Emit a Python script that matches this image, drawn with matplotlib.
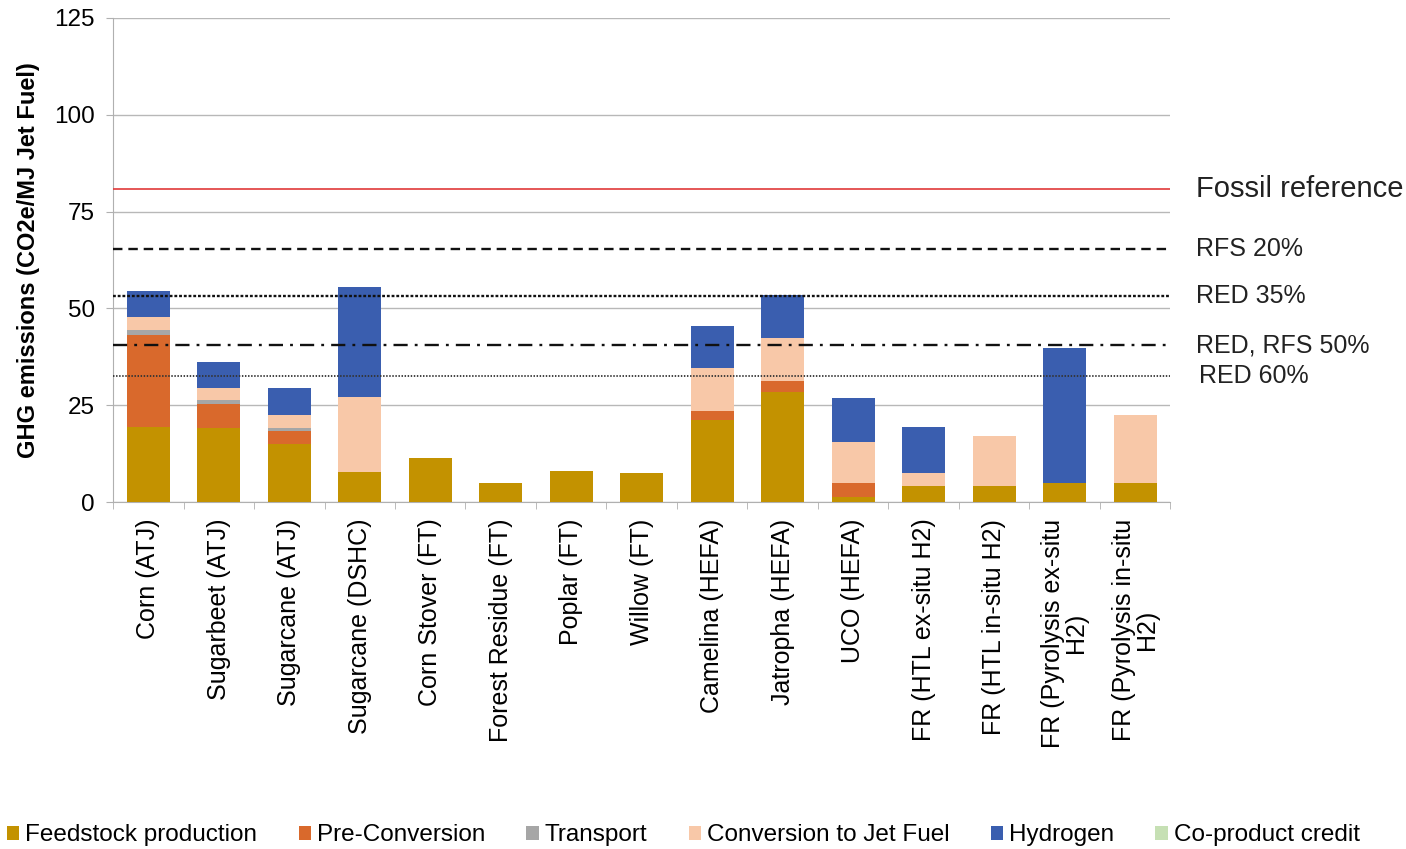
import matplotlib
matplotlib.use("Agg")
import matplotlib.pyplot as plt
from matplotlib.patches import Patch
import matplotlib.transforms as mtransforms
import numpy as np

plt.rcParams['font.family'] = ['Liberation Sans', 'DejaVu Sans']

# pathways (x axis)
categories = ["Corn (ATJ)", "Sugarbeet (ATJ)", "Sugarcane (ATJ)", "Sugarcane (DSHC)",
              "Corn Stover (FT)", "Forest Residue (FT)", "Poplar (FT)", "Willow (FT)",
              "Camelina (HEFA)", "Jatropha (HEFA)", "UCO (HEFA)", "FR (HTL ex-situ H2)",
              "FR (HTL in-situ H2)", "FR (Pyrolysis ex-situ\nH2)", "FR (Pyrolysis in-situ\nH2)"]

# emissions by stage, gCO2e/MJ jet fuel
feedstock = [19.4, 19.2, 15.1, 7.7, 11.4, 5.0, 8.0, 7.6, 21.2, 28.5, 1.4, 4.2, 4.2, 4.8, 4.8]
pre_conversion = [23.7, 6.0, 3.2, 0, 0, 0, 0, 0, 2.4, 2.7, 3.5, 0, 0, 0, 0]
transport = [1.3, 1.1, 0.9, 0, 0, 0, 0, 0, 0, 0, 0, 0, 0, 0, 0]
conversion = [3.3, 3.1, 3.3, 19.5, 0, 0, 0, 0, 10.9, 11.2, 10.7, 3.2, 12.8, 0, 17.7]
hydrogen = [6.8, 6.8, 6.9, 28.2, 0, 0, 0, 0, 11.0, 11.1, 11.2, 12.1, 0, 35.1, 0]
coproduct = [0] * 15

series_names = ["Feedstock production", "Pre-Conversion", "Transport",
                "Conversion to Jet Fuel", "Hydrogen", "Co-product credit"]
series_colors = ["#C39200", "#D9692C", "#A6A6A6", "#F8C8A8", "#3A5EAF", "#C6E0B4"]

# reference thresholds
ref_labels = ["Fossil reference", "RFS 20%", "RED 35%", "RED, RFS 50%", "RED 60%"]
ref_values = [80.8, 65.3, 53.2, 40.5, 32.5]

fig = plt.figure(figsize=(14.06, 8.49), dpi=100)
ax = fig.add_axes([0.0804, 0.4087, 0.752, 0.5701])

x = np.arange(len(categories))
bottom = np.zeros(len(categories))
for vals, color in zip([feedstock, pre_conversion, transport, conversion, hydrogen, coproduct],
                       series_colors):
    vals = np.array(vals, dtype=float)
    ax.bar(x, vals, bottom=bottom, width=0.61, color=color, zorder=3)
    bottom += vals

ax.set_xlim(-0.5, len(categories) - 0.5)
ax.set_ylim(0, 125)
ax.set_yticks([0, 25, 50, 75, 100, 125])
ax.yaxis.grid(True, color="#b8b8b8", lw=1.0, zorder=0)
ax.set_axisbelow(True)

# threshold lines
ax.axhline(ref_values[0], color="#e0393a", lw=1.2, zorder=4)
ax.axhline(ref_values[1], color="#111111", lw=1.7, ls=(0, (4, 2.5)), zorder=4)
ax.axhline(ref_values[2], color="#111111", lw=1.7, ls=(0, (1.2, 0.8)), zorder=4)
ax.axhline(ref_values[3], color="#111111", lw=1.7, ls=(0, (6, 3, 1.2, 3)), zorder=4)
ax.axhline(ref_values[4], color="#333333", lw=1.3, ls=(0, (0.8, 0.9)), zorder=4)

trans = mtransforms.blended_transform_factory(ax.transAxes, ax.transData)
for i, (lab, val) in enumerate(zip(ref_labels, ref_values)):
    ax.text(1.0246 if i < 4 else 1.027, val, lab, transform=trans, va="center", ha="left",
            fontsize=21 if i == 0 else 18, color="#222222")

ax.set_xticks(x)
ax.set_xticklabels(categories, rotation=90, fontsize=18, va="top", ha="center",
                   linespacing=0.95)
ax.set_xticks(np.arange(-0.5, len(categories)), minor=True)
ax.tick_params(axis="x", which="major", length=0, pad=12)
ax.tick_params(axis="x", which="minor", length=5, color="#b0b0b0")
ax.tick_params(axis="y", length=5, color="#b0b0b0", labelsize=17.5, pad=8)

for side in ["top", "right"]:
    ax.spines[side].set_visible(False)
ax.spines["left"].set_color("#b0b0b0")
ax.spines["bottom"].set_color("#b0b0b0")

ax.set_ylabel("GHG emissions (CO2e/MJ Jet Fuel)", fontsize=17, fontweight="bold",
              labelpad=10)

handles = [Patch(facecolor=c, edgecolor="none") for c in series_colors]
fig.legend(handles, series_names, loc="center", bbox_to_anchor=(0.486, 0.016), ncol=6,
           frameon=False, fontsize=17.5, handlelength=0.5, handleheight=0.5,
           handletextpad=0.25, columnspacing=1.7)

fig.savefig("out.png", dpi=100)
